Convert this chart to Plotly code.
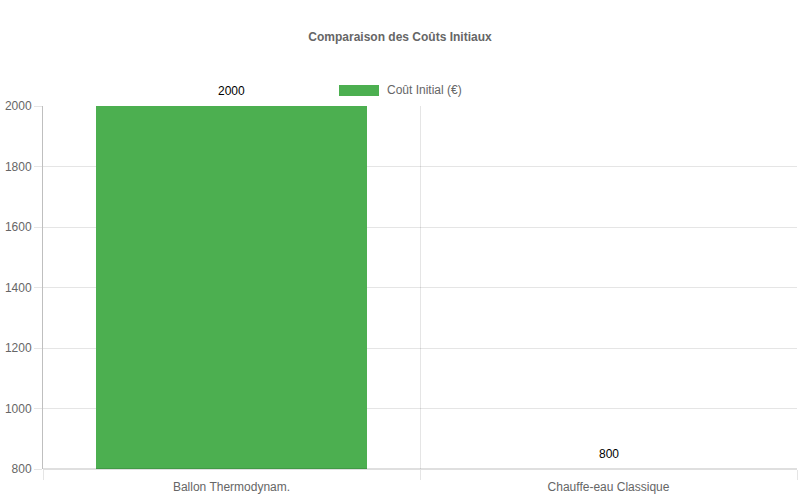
import plotly.graph_objects as go

# data
categories = ["Ballon Thermodynam.", "Chauffe-eau Classique"]
costs = [2000, 800]
series_name = "Coût Initial (€)"
y_ticks = [800, 1000, 1200, 1400, 1600, 1800, 2000]

GREEN = "#4CAF50"
GRID = "rgba(0,0,0,0.1)"
AXIS = "rgba(0,0,0,0.25)"
TXT = "#666"
FONT = "Liberation Sans, Arial, Helvetica, sans-serif"

# plot area in pixels (chart.js layout)
L, T = 43, 106
PW, PH = 754, 363

fig = go.Figure()
fig.add_trace(go.Bar(
    x=categories, y=costs, name=series_name,
    marker=dict(color=GREEN, line=dict(width=0)),
    width=0.72, showlegend=False,
))

# value labels above the bars
for c, v in zip(categories, costs):
    fig.add_annotation(x=c, y=v, text=str(v), showarrow=False,
                       yshift=15, font=dict(size=12, color="#000", family=FONT))

# chart.js-like legend box
fig.add_shape(type="rect", xref="paper", yref="paper",
              x0=(339 - L) / PW, x1=(379 - L) / PW,
              y0=(469 - 96) / PH, y1=(469 - 85) / PH,
              fillcolor=GREEN, line=dict(width=0))
fig.add_annotation(xref="paper", yref="paper", x=(385 - L) / PW, y=(469 - 90.5) / PH,
                   xanchor="left", yanchor="middle", showarrow=False,
                   text=series_name, font=dict(size=12, color=TXT, family=FONT))

fig.update_layout(
    width=800, height=500,
    margin=dict(l=L, r=800 - L - PW, t=T, b=500 - T - PH, autoexpand=False),
    paper_bgcolor="white", plot_bgcolor="white",
    font=dict(family=FONT, size=12, color=TXT),
    title=dict(text="<b>Comparaison des Coûts Initiaux</b>", x=0.5, xanchor="center",
               y=1 - 37 / 500, yanchor="middle", font=dict(size=12, color=TXT, family=FONT)),
    xaxis=dict(type="category", range=[-0.5, 1.5], showgrid=False, ticks="",
               showline=False, ticklabelstandoff=9, tickfont=dict(size=12, color=TXT)),
    # second x axis only used for gridlines between categories
    xaxis2=dict(overlaying="x", range=[-0.5, 1.5], tickvals=[-0.5, 0.5, 1.5],
                showticklabels=False, showgrid=True, gridcolor=GRID, gridwidth=1,
                ticks="outside", ticklen=10, tickcolor=GRID, side="bottom",
                zeroline=False),
    yaxis=dict(range=[800, 2000], tickvals=y_ticks, showgrid=True, gridcolor=GRID,
               ticks="outside", ticklen=8, tickcolor=GRID, showline=True,
               linecolor=AXIS, linewidth=1, zeroline=False,
               tickfont=dict(size=12, color=TXT)),
    bargap=0,
)
fig.add_trace(go.Scatter(x=[None], y=[None], xaxis="x2", showlegend=False, hoverinfo="skip"))
# bottom axis line
fig.add_shape(type="line", xref="paper", yref="paper", x0=0, x1=1, y0=0, y1=0,
              line=dict(color=AXIS, width=1))

# drop the default page margin so the figure sits at the top-left corner
fig.write_html("out.html", config={"displayModeBar": False},
               post_script="document.body.style.margin='0';")
